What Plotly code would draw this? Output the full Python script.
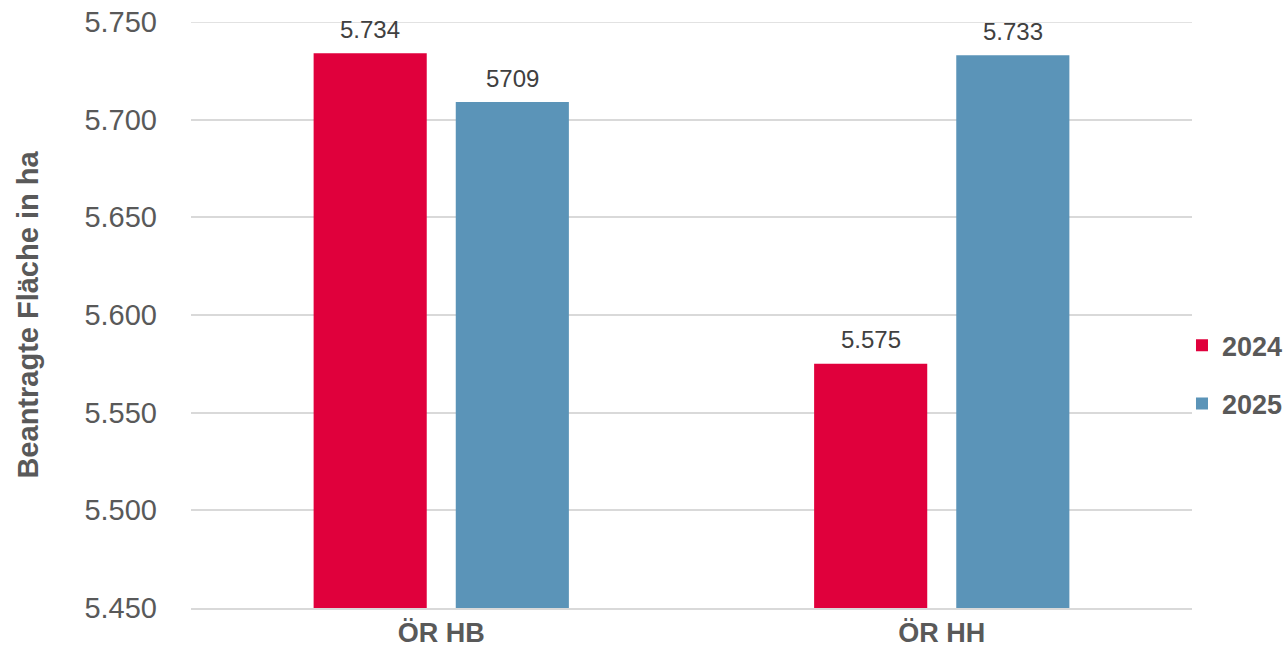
import plotly.graph_objects as go

categories = ["ÖR HB", "ÖR HH"]
years = ["2024", "2025"]
values_2024 = [5734, 5575]
values_2025 = [5709, 5733]
labels_2024 = ["5.734", "5.575"]
labels_2025 = ["5709", "5.733"]
tick_vals = [5450, 5500, 5550, 5600, 5650, 5700, 5750]

colors = {"2024": "#E0003C", "2025": "#5B94B8"}
FONT = "Liberation Sans, Arial, sans-serif"
GRID = "#D9D9D9"

W, H = 1285, 656
M = dict(l=191, r=93, t=22, b=48)

# bar geometry within a category band (fraction of band)
BAR_W = 0.226
BAR_OFFSETS = {"2024": -0.255, "2025": 0.029}
band_px = (W - M["l"] - M["r"]) / len(categories)

fig = go.Figure()
for yr, vals in [("2024", values_2024), ("2025", values_2025)]:
    fig.add_trace(go.Bar(
        x=categories, y=vals, name=yr, legendgroup=yr,
        width=BAR_W, offset=BAR_OFFSETS[yr],
        marker=dict(color=colors[yr], line=dict(width=0)),
        hoverinfo="x+y",
    ))

# value labels centred above each bar
for yr, vals, labs in [("2024", values_2024, labels_2024), ("2025", values_2025, labels_2025)]:
    shift = (BAR_OFFSETS[yr] + BAR_W / 2) * band_px
    for cat, v, lab in zip(categories, vals, labs):
        fig.add_annotation(
            x=cat, y=v, text=lab, showarrow=False,
            xshift=shift, yshift=24, yanchor="middle", xanchor="center",
            font=dict(family=FONT, size=24, color="#404040"),
        )

# top gridline (plotly drops the gridline on the plot edge)
fig.add_shape(type="line", xref="paper", x0=0, x1=1, yref="y",
              y0=tick_vals[-1], y1=tick_vals[-1], layer="below",
              line=dict(color=GRID, width=1.5))

fig.update_layout(
    width=W, height=H,
    margin=dict(**M, autoexpand=False),
    paper_bgcolor="white", plot_bgcolor="white",
    barmode="overlay",
    separators=",.",
    font=dict(family=FONT, color="#595959"),
    showlegend=True,
    legend=dict(
        x=0.99, xanchor="left", y=0.398, yanchor="middle",
        font=dict(size=27, color="#595959", family=FONT, weight="bold"),
        tracegroupgap=20, traceorder="grouped",
        itemwidth=30, bgcolor="rgba(0,0,0,0)",
    ),
    yaxis=dict(
        range=[5450, 5750], tickvals=tick_vals, tickformat=",d",
        showgrid=True, gridcolor=GRID, gridwidth=1.5,
        zeroline=False, showline=False, ticks="",
        tickfont=dict(size=29, color="#595959"),
        ticklabelstandoff=33, ticklabeloverflow="allow",
        title=dict(text="Beantragte Fläche in ha", standoff=37,
                   font=dict(size=29, color="#595959", weight="bold")),
    ),
    xaxis=dict(
        showline=True, linecolor=GRID, linewidth=1.5, ticks="",
        tickfont=dict(size=27, color="#595959", weight="bold"),
        ticklabeloverflow="allow",
    ),
)

fig.write_html(
    "out.html",
    config={"displayModeBar": False},
    post_script="document.body.style.margin='0';document.body.style.overflow='hidden';",
)
